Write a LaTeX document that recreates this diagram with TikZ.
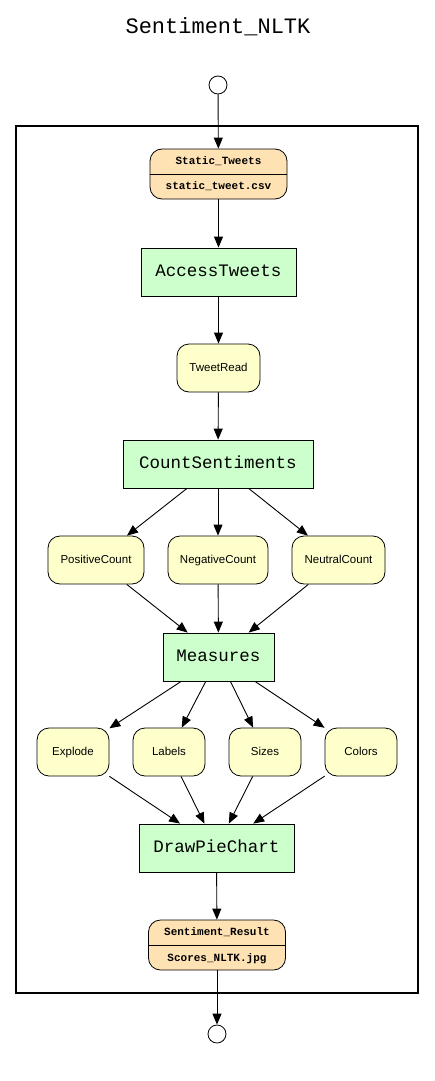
\documentclass[tikz,border=0pt]{standalone}
\usepackage{fontspec}
\setmainfont{Liberation Sans}
\setmonofont{Liberation Mono}
\usetikzlibrary{arrows.meta}
\definecolor{procgreen}{HTML}{CCFFCC}
\definecolor{datayellow}{HTML}{FFFFCC}
\definecolor{fileorange}{HTML}{FFE2B4}

\begin{document}
\begin{tikzpicture}[x=1pt, y=-1pt,
    proc/.style={draw, line width=0.8pt, fill=procgreen, minimum height=48pt, inner sep=0pt, text height=11pt, text depth=3pt, font=\ttfamily\fontsize{17.5}{20}\selectfont},
    data/.style={draw, line width=0.8pt, fill=datayellow, rounded corners=12pt, minimum width=72pt, minimum height=48pt, inner sep=0pt, text height=8.5pt, text depth=2.5pt, font=\fontsize{11.5}{13}\selectfont},
    file/.style={draw, line width=0.8pt, fill=fileorange, rounded corners=12pt, minimum width=137pt, minimum height=50pt, inner sep=0pt},
    filetext/.style={font=\ttfamily\bfseries\fontsize{11}{12}\selectfont, inner sep=0pt, text height=7.5pt, text depth=2.5pt},
    port/.style={draw, line width=0.8pt, circle, minimum size=18pt, inner sep=0pt},
    flow/.style={-{Triangle[length=11pt, width=9pt]}, line width=0.9pt}]
    \useasboundingbox (0,0) rectangle (435,1081);

    % title and the outer frame
    \node[font=\ttfamily\fontsize{22}{24}\selectfont] (title) at (218,27) {Sentiment\_NLTK};
    \draw[line width=1.6pt] (16,126) rectangle (418,993);

    % input file
    \node[port] (start) at (218,85) {};
    \node[file] (tweets) at (218.5,174) {};
    \draw[line width=0.8pt] (tweets.west) -- (tweets.east);
    \node[filetext] (tweetsname) at (218.5,162) {Static\_Tweets};
    \node[filetext] (tweetsfile) at (218.5,187) {static\_tweet.csv};

    % read and count
    \node[proc, minimum width=155pt] (access) at (218.5,272) {AccessTweets};
    \node[data, minimum width=83pt] (tweetread) at (218.5,368) {TweetRead};
    \node[proc, minimum width=190pt] (count) at (218,464) {CountSentiments};
    \node[data, minimum width=96pt] (pos) at (96,560) {PositiveCount};
    \node[data, minimum width=100pt] (neg) at (218,560) {NegativeCount};
    \node[data, minimum width=93pt] (neu) at (338.5,560) {NeutralCount};

    % pie chart values
    \node[proc, minimum width=111pt] (measures) at (218.5,657) {Measures};
    \node[data] (explode) at (73,752) {Explode};
    \node[data] (labels) at (169,752) {Labels};
    \node[data] (sizes) at (265,752) {Sizes};
    \node[data] (colors) at (361,752) {Colors};
    \node[proc, minimum width=155pt] (pie) at (216.5,848) {DrawPieChart};

    % output file
    \node[file] (result) at (217,945) {};
    \draw[line width=0.8pt] (result.west) -- (result.east);
    \node[filetext] (resultname) at (217,933) {Sentiment\_Result};
    \node[filetext] (resultfile) at (217,959) {Scores\_NLTK.jpg};
    \node[port] (finish) at (217,1034) {};

    % edges
    \draw[flow] (start) -- (tweets);
    \draw[flow] (tweets) -- (access);
    \draw[flow] (access) -- (tweetread);
    \draw[flow] (tweetread) -- (count);
    \foreach \v in {pos, neg, neu} {
        \draw[flow] (count) -- (\v);
        \draw[flow] (\v) -- (measures);
    }
    \foreach \v in {explode, labels, sizes, colors} {
        \draw[flow] (measures) -- (\v);
        \draw[flow] (\v) -- (pie);
    }
    \draw[flow] (pie) -- (result);
    \draw[flow] (result) -- (finish);
\end{tikzpicture}
\end{document}
